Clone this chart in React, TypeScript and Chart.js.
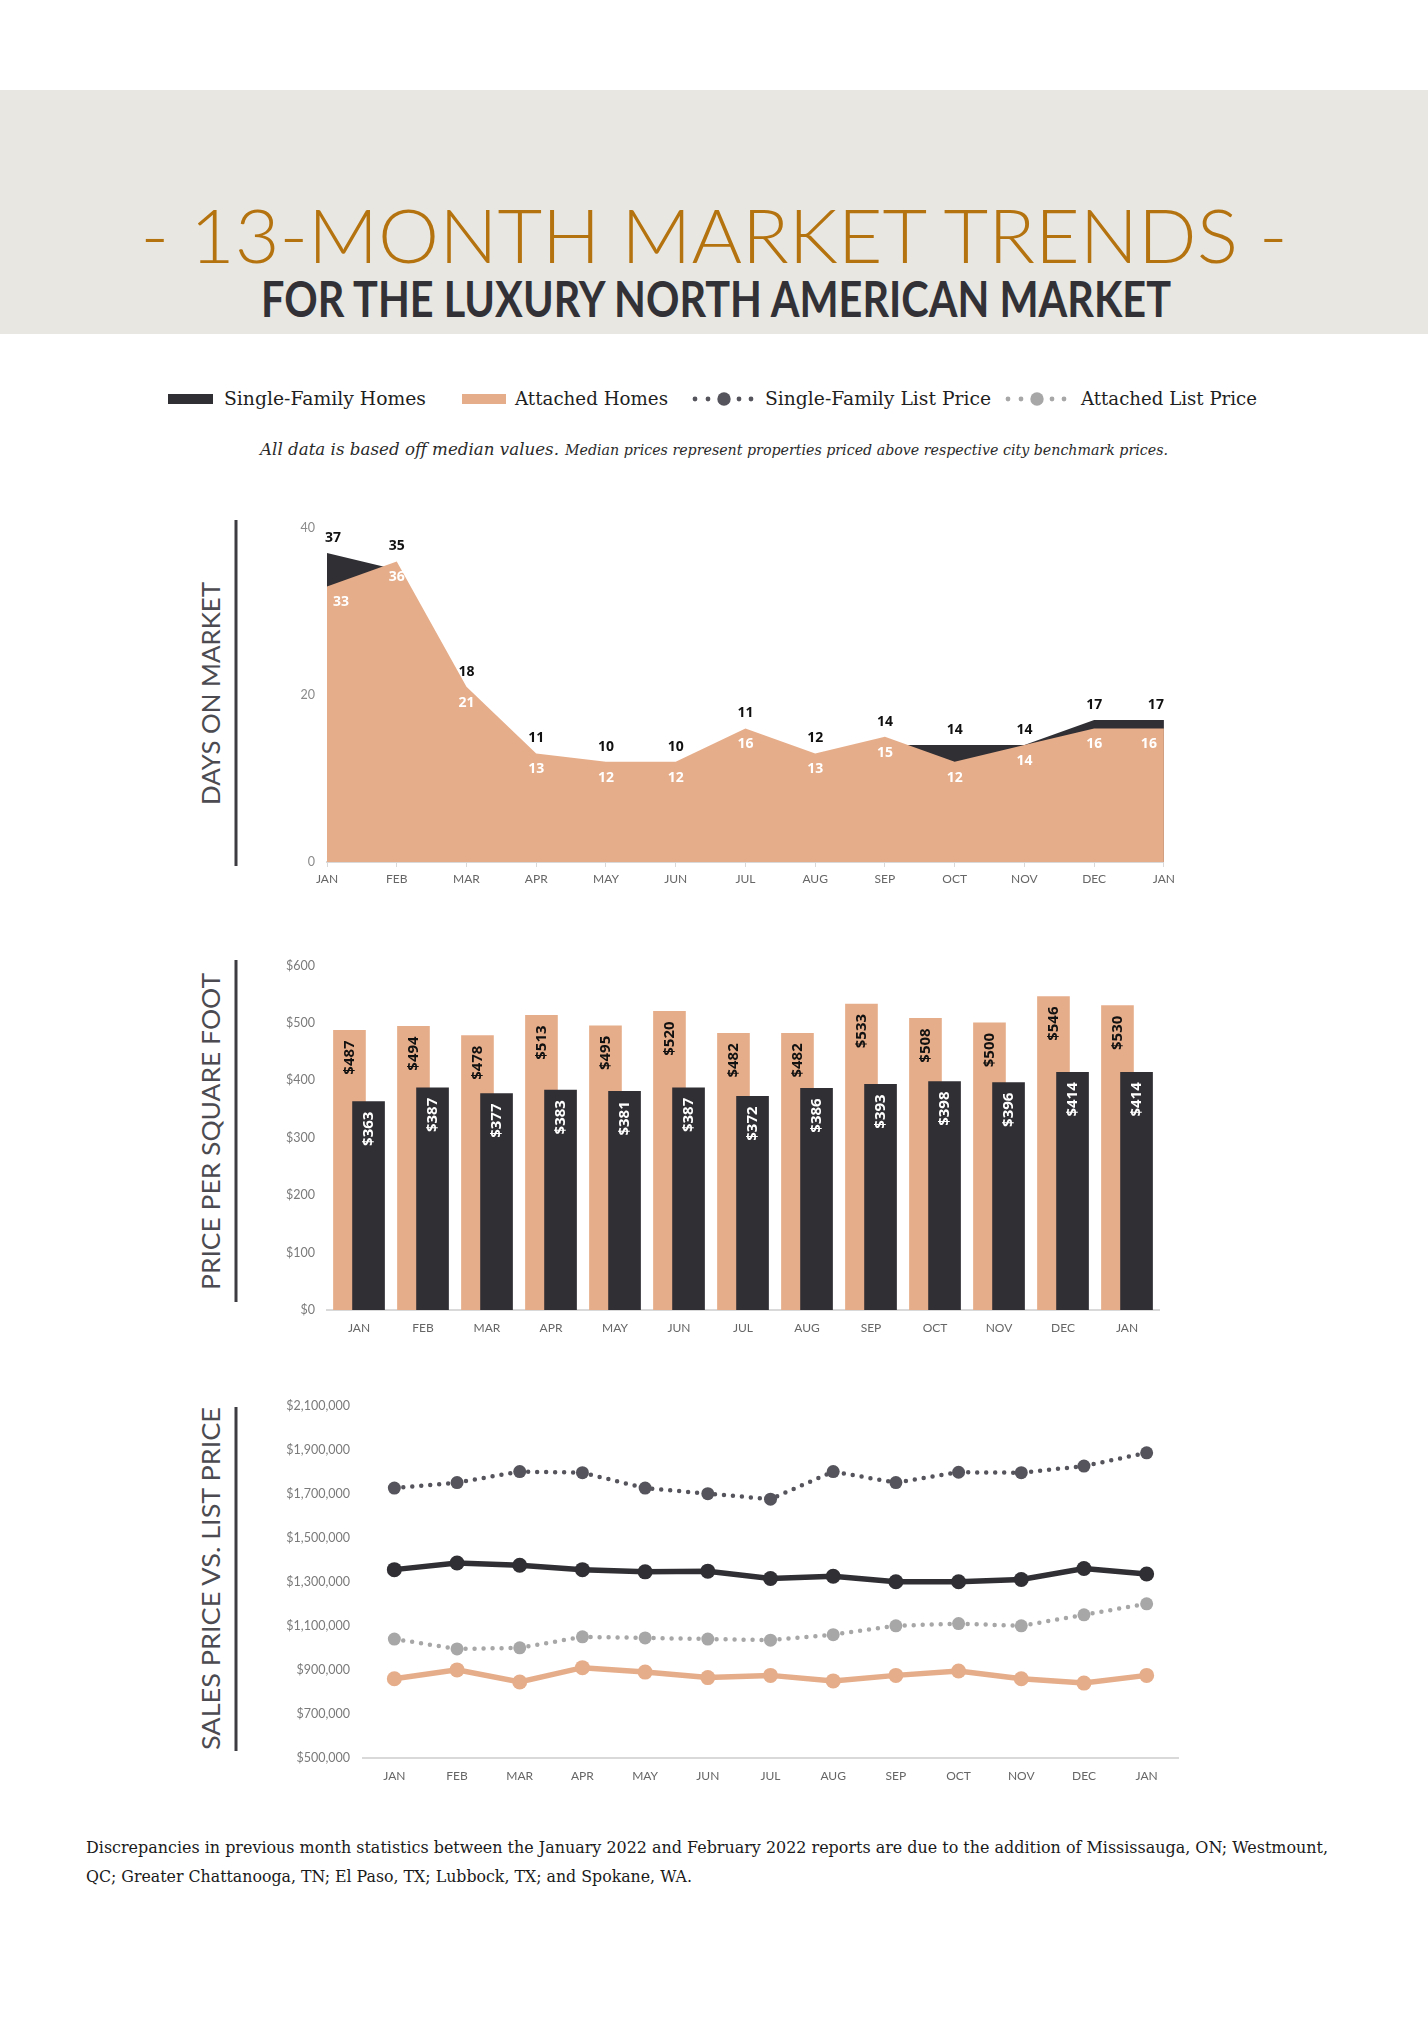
import React, { useEffect, useRef } from "react";
import { Chart, registerables } from "chart.js";

Chart.register(...registerables);

// ---------- DATA ----------
const months = ["JAN", "FEB", "MAR", "APR", "MAY", "JUN", "JUL", "AUG", "SEP", "OCT", "NOV", "DEC", "JAN"];

const domSingleFamily = [37, 35, 18, 11, 10, 10, 11, 12, 14, 14, 14, 17, 17];
const domAttached = [33, 36, 21, 13, 12, 12, 16, 13, 15, 12, 14, 16, 16];

const ppsfAttached = [487, 494, 478, 513, 495, 520, 482, 482, 533, 508, 500, 546, 530];
const ppsfSingleFamily = [363, 387, 377, 383, 381, 387, 372, 386, 393, 398, 396, 414, 414];

const sfListPrice = [1725000, 1750000, 1800000, 1795000, 1725000, 1700000, 1675000, 1800000, 1750000, 1797000, 1795000, 1825000, 1885000];
const sfSalesPrice = [1355000, 1385000, 1375000, 1355000, 1345000, 1348000, 1315000, 1325000, 1300000, 1300000, 1310000, 1360000, 1335000];
const attListPrice = [1040000, 995000, 1000000, 1050000, 1045000, 1040000, 1035000, 1060000, 1100000, 1110000, 1100000, 1150000, 1200000];
const attSalesPrice = [860000, 900000, 845000, 910000, 890000, 865000, 875000, 850000, 875000, 895000, 860000, 840000, 875000];

const TITLE = "- 13-MONTH MARKET TRENDS -";
const SUBTITLE = "FOR THE LUXURY NORTH AMERICAN MARKET";
const legendLabels = ["Single-Family Homes", "Attached Homes", "Single-Family List Price", "Attached List Price"];
const NOTE_MAIN = "All data is based off median values.";
const NOTE_SUB = "Median prices represent properties priced above respective city benchmark prices.";
const FOOTER_1 = "Discrepancies in previous month statistics between the January 2022 and February 2022 reports are due to the addition of Mississauga, ON; Westmount,";
const FOOTER_2 = "QC; Greater Chattanooga, TN; El Paso, TX; Lubbock, TX; and Spokane, WA.";
const sectionTitles = ["DAYS ON MARKET", "PRICE PER SQUARE FOOT", "SALES PRICE VS. LIST PRICE"];

// ---------- STYLE ----------
const DARK = "#302f34";
const TAN = "#e6ad8a";
const SF_LIST = "#55545c";
const ATT_LIST = "#a7a7a7";
const AXIS = "#d9d9d9";
const TICK = "#666666";
const TICK_FONT = { family: "Lato", size: 12 };
const TICK_FONT_Y = { family: "Lato", size: 12.5 };

function ChartCanvas({ left, top, width, height, build }: any) {
  const ref = useRef<HTMLCanvasElement>(null);
  useEffect(() => {
    const chart = new Chart(ref.current as HTMLCanvasElement, build());
    return () => chart.destroy();
  }, []);
  return (
    <canvas
      ref={ref}
      width={width}
      height={height}
      style={{ position: "absolute", left, top, width, height }}
    />
  );
}

// ---------- CHART 1: DAYS ON MARKET ----------
const domLabelPlugin = {
  id: "domLabels",
  afterDatasetsDraw(chart: any) {
    const ctx = chart.ctx;
    const xs = chart.scales.x;
    const ys = chart.scales.y;
    const last = months.length - 1;
    ctx.save();
    ctx.font = '700 14px "Open Sans"';
    ctx.textAlign = "center";
    ctx.textBaseline = "middle";
    months.forEach((_, i) => {
      const x = xs.getPixelForValue(i);
      const dxTop = i === 0 ? 6 : i === last ? -8 : 0;
      const dxIn = i === 0 ? 14 : i === last ? -15 : 0;
      const top = ys.getPixelForValue(Math.max(domSingleFamily[i], domAttached[i]));
      ctx.fillStyle = "#111111";
      ctx.fillText(String(domSingleFamily[i]), x + dxTop, top - 15);
      ctx.fillStyle = "#ffffff";
      ctx.fillText(String(domAttached[i]), x + dxIn, ys.getPixelForValue(domAttached[i]) + 16);
    });
    ctx.restore();
  },
};

function buildDom() {
  return {
    type: "line",
    data: {
      labels: months,
      datasets: [
        { label: "Attached Homes", data: domAttached, fill: "origin", backgroundColor: TAN, borderWidth: 0, pointRadius: 0, tension: 0 },
        { label: "Single-Family Homes", data: domSingleFamily, fill: "origin", backgroundColor: DARK, borderWidth: 0, pointRadius: 0, tension: 0 },
      ],
    },
    options: {
      responsive: false,
      animation: false,
      layout: { padding: { top: 23, right: 15, left: 0, bottom: 0 } },
      plugins: { legend: { display: false }, tooltip: { enabled: false } },
      scales: {
        x: {
          offset: false,
          grid: { display: true, drawOnChartArea: false, color: AXIS, tickLength: 5 },
          border: { display: true, color: AXIS, width: 2 },
          ticks: { color: TICK, font: TICK_FONT, padding: 5, maxRotation: 0, autoSkip: false },
          afterFit: (s: any) => { s.height = 38; },
        },
        y: {
          min: 0,
          max: 40,
          ticks: { stepSize: 20, color: "#8a8a8a", font: TICK_FONT_Y, padding: 12 },
          grid: { display: false, drawTicks: false },
          border: { display: false },
          afterFit: (s: any) => { s.width = 47; },
        },
      },
    },
    plugins: [domLabelPlugin],
  };
}

// ---------- CHART 2: PRICE PER SQUARE FOOT ----------
const BAR_SHIFT = 0.149;
const barLabelPlugin = {
  id: "barLabels",
  afterDatasetsDraw(chart: any) {
    const ctx = chart.ctx;
    const series = [ppsfSingleFamily, ppsfAttached];
    ctx.save();
    ctx.font = '700 15px "Open Sans"';
    ctx.textAlign = "right";
    ctx.textBaseline = "middle";
    series.forEach((values, di) => {
      const meta = chart.getDatasetMeta(di);
      meta.data.forEach((bar: any, i: number) => {
        const { x, y } = bar.getProps(["x", "y"], true);
        ctx.save();
        ctx.translate(x, y + 10);
        ctx.rotate(-Math.PI / 2);
        ctx.fillStyle = di === 0 ? "#ffffff" : "#111111";
        ctx.fillText("$" + values[i], 0, 0);
        ctx.restore();
      });
    });
    ctx.restore();
  },
};

function buildPpsf() {
  return {
    type: "bar",
    data: {
      datasets: [
        {
          label: "Single-Family Homes",
          data: ppsfSingleFamily.map((v, i) => ({ x: i + BAR_SHIFT, y: v })),
          backgroundColor: DARK,
          grouped: false,
          barThickness: 32,
          borderWidth: 0,
        },
        {
          label: "Attached Homes",
          data: ppsfAttached.map((v, i) => ({ x: i - BAR_SHIFT, y: v })),
          backgroundColor: TAN,
          grouped: false,
          barThickness: 32,
          borderWidth: 0,
        },
      ],
    },
    options: {
      responsive: false,
      animation: false,
      layout: { padding: { top: 19, right: 21, left: 0, bottom: 0 } },
      plugins: { legend: { display: false }, tooltip: { enabled: false } },
      scales: {
        x: {
          type: "linear",
          offset: false,
          min: -0.5,
          max: months.length - 0.5,
          afterBuildTicks: (s: any) => { s.ticks = months.map((_, i) => ({ value: i })); },
          grid: { display: false, drawTicks: false },
          border: { display: true, color: AXIS, width: 2 },
          ticks: {
            color: TICK,
            font: TICK_FONT,
            padding: 11,
            maxRotation: 0,
            autoSkip: false,
            callback: (_v: any, i: number) => months[i],
          },
          afterFit: (s: any) => { s.height = 36; },
        },
        y: {
          min: 0,
          max: 600,
          ticks: { stepSize: 100, color: "#7a7a7a", font: TICK_FONT_Y, padding: 12, callback: (v: any) => "$" + v },
          grid: { display: false, drawTicks: false },
          border: { display: false },
          afterFit: (s: any) => { s.width = 77; },
        },
      },
    },
    plugins: [barLabelPlugin],
  };
}

// ---------- CHART 3: SALES PRICE VS LIST PRICE ----------
function buildPrices() {
  const dotted = (color: string, data: number[], label: string) => ({
    label,
    data,
    borderColor: color,
    backgroundColor: color,
    borderWidth: 4.5,
    borderDash: [0, 9],
    borderCapStyle: "round",
    pointRadius: 6.5,
    pointBackgroundColor: color,
    pointBorderWidth: 0,
    tension: 0,
    fill: false,
  });
  const solid = (color: string, data: number[], label: string) => ({
    label,
    data,
    borderColor: color,
    backgroundColor: color,
    borderWidth: 5.5,
    pointRadius: 7.5,
    pointBackgroundColor: color,
    pointBorderWidth: 0,
    tension: 0,
    fill: false,
  });
  return {
    type: "line",
    data: {
      labels: months,
      datasets: [
        dotted(SF_LIST, sfListPrice, "Single-Family List Price"),
        solid(DARK, sfSalesPrice, "Single-Family Homes"),
        dotted(ATT_LIST, attListPrice, "Attached List Price"),
        solid(TAN, attSalesPrice, "Attached Homes"),
      ],
    },
    options: {
      responsive: false,
      animation: false,
      layout: { padding: { top: 17, right: 22, left: 0, bottom: 0 } },
      plugins: { legend: { display: false }, tooltip: { enabled: false } },
      scales: {
        x: {
          offset: true,
          grid: { display: false, drawTicks: false },
          border: { display: true, color: AXIS, width: 2 },
          ticks: { color: TICK, font: TICK_FONT, padding: 11, maxRotation: 0, autoSkip: false },
          afterFit: (s: any) => { s.height = 37; },
        },
        y: {
          min: 500000,
          max: 2100000,
          ticks: {
            stepSize: 200000,
            color: "#7a7a7a",
            font: TICK_FONT_Y,
            padding: 13,
            callback: (v: any) => "$" + Number(v).toLocaleString("en-US"),
          },
          grid: { display: false, drawTicks: false },
          border: { display: false },
          afterFit: (s: any) => { s.width = 123; },
        },
      },
    },
  };
}

// ---------- PAGE ----------
function DotMarker({ x, y, color }: { x: number; y: number; color: string }) {
  return (
    <g fill={color}>
      <circle cx={x} cy={y} r={2.4} />
      <circle cx={x + 13} cy={y} r={2.4} />
      <circle cx={x + 29} cy={y} r={6.7} />
      <circle cx={x + 44} cy={y} r={2.4} />
      <circle cx={x + 56} cy={y} r={2.4} />
    </g>
  );
}

function VerticalTitle({ text, cy, len }: { text: string; cy: number; len: number }) {
  return (
    <text
      x={210}
      y={cy}
      transform={`rotate(-90 210 ${cy})`}
      textAnchor="middle"
      dominantBaseline="central"
      textLength={len}
      lengthAdjust="spacingAndGlyphs"
      style={{ font: '400 25px Lato' }}
      fill="#4b4b51"
    >
      {text}
    </text>
  );
}

export default function App() {
  const serif = '"DejaVu Serif", serif';
  return (
    <div style={{ position: "absolute", left: 0, top: 0, width: 1428, height: 2028, background: "#ffffff", overflow: "hidden" }}>
      <svg width={1428} height={2028} style={{ position: "absolute", left: 0, top: 0 }}>
        <rect x={0} y={90} width={1428} height={244} fill="#e8e7e2" />
        <text x={714} y={263} textAnchor="middle" textLength={1147} lengthAdjust="spacingAndGlyphs" style={{ font: "300 74px Lato" }} fill="#b5730f">
          {TITLE}
        </text>
        <text x={716} y={317} textAnchor="middle" textLength={910} lengthAdjust="spacingAndGlyphs" style={{ font: "700 49px Lato" }} fill="#323136">
          {SUBTITLE}
        </text>

        {/* legend */}
        <rect x={168} y={394} width={45} height={10} fill={DARK} />
        <text x={224} y={405} textLength={202} lengthAdjust="spacingAndGlyphs" style={{ font: `400 18px ${serif}` }} fill="#1f1f1f">{legendLabels[0]}</text>
        <rect x={462} y={394} width={44} height={10} fill={TAN} />
        <text x={515} y={405} textLength={153} lengthAdjust="spacingAndGlyphs" style={{ font: `400 18px ${serif}` }} fill="#1f1f1f">{legendLabels[1]}</text>
        <DotMarker x={695} y={399} color={SF_LIST} />
        <text x={765} y={405} textLength={226} lengthAdjust="spacingAndGlyphs" style={{ font: `400 18px ${serif}` }} fill="#1f1f1f">{legendLabels[2]}</text>
        <DotMarker x={1008} y={399} color={ATT_LIST} />
        <text x={1081} y={405} textLength={176} lengthAdjust="spacingAndGlyphs" style={{ font: `400 18px ${serif}` }} fill="#1f1f1f">{legendLabels[3]}</text>

        {/* note */}
        <text x={260} y={455} textLength={299} lengthAdjust="spacingAndGlyphs" style={{ font: `italic 400 17.5px ${serif}` }} fill="#2a2a2a">{NOTE_MAIN}</text>
        <text x={565} y={455} textLength={603} lengthAdjust="spacingAndGlyphs" style={{ font: `italic 400 15px ${serif}` }} fill="#2a2a2a">{NOTE_SUB}</text>

        {/* section titles and bars */}
        <VerticalTitle text={sectionTitles[0]} cy={693.5} len={223} />
        <rect x={234.5} y={520} width={3} height={346} fill="#3d3c42" />
        <VerticalTitle text={sectionTitles[1]} cy={1131.5} len={317} />
        <rect x={234.5} y={960} width={3} height={342} fill="#3d3c42" />
        <VerticalTitle text={sectionTitles[2]} cy={1578.5} len={343} />
        <rect x={234.5} y={1407} width={3} height={344} fill="#3d3c42" />

        {/* footer */}
        <text x={86} y={1853} textLength={1242} lengthAdjust="spacingAndGlyphs" style={{ font: `400 16px ${serif}` }} fill="#1a1a1a">{FOOTER_1}</text>
        <text x={86} y={1882} textLength={606} lengthAdjust="spacingAndGlyphs" style={{ font: `400 16px ${serif}` }} fill="#1a1a1a">{FOOTER_2}</text>
      </svg>

      <ChartCanvas left={280} top={505} width={900} height={395} build={buildDom} />
      <ChartCanvas left={250} top={946} width={930} height={400} build={buildPpsf} />
      <ChartCanvas left={240} top={1385} width={960} height={410} build={buildPrices} />
    </div>
  );
}
